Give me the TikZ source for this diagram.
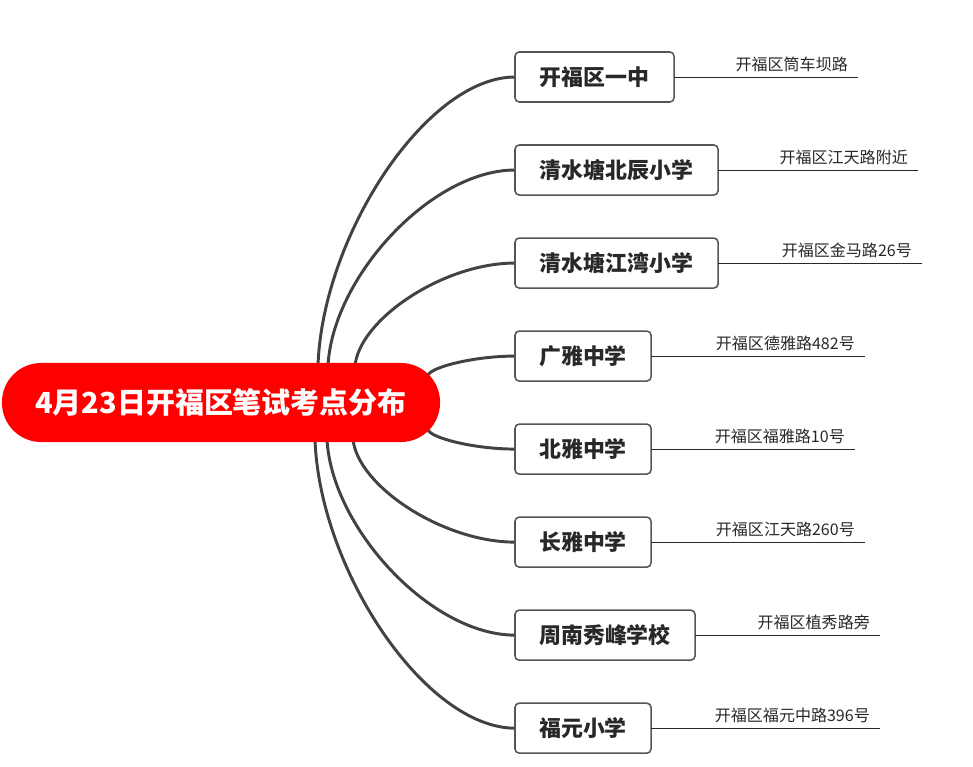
\documentclass[tikz,border=0pt]{standalone}
\usepackage{fontspec}
\setmainfont{Noto Sans CJK SC}
\usepackage{tikz}
\usetikzlibrary{positioning,calc,backgrounds}
\usepackage{xcolor}
\definecolor{cRoot}{RGB}{255,0,0}
\definecolor{cLine}{RGB}{66,66,66}
\definecolor{cBorder}{RGB}{85,85,85}
\definecolor{cText}{RGB}{40,40,40}
\tikzset{
  rootnode/.style={rectangle,rounded corners=0.98cm,fill=cRoot,text=white,
                   minimum width=10.95cm,minimum height=1.975cm,inner sep=0pt,
                   font=\fontsize{20.6}{24}\selectfont\bfseries},
  schoolnode/.style={rectangle,rounded corners=3pt,draw=cBorder,line width=1.1pt,
                     fill=white,text=cText,minimum height=1.25cm,inner sep=0pt,
                     outer sep=0pt,font=\fontsize{15.6}{18}\selectfont\bfseries},
  addrnode/.style={inner sep=0pt,text=cText,font=\fontsize{11.4}{13}\selectfont},
  addrline/.style={line width=0.6pt,color=cText},
  branch/.style={line width=2.1pt,color=cLine,
    to path={let \p1=(\tikztostart), \p2=(\tikztotarget) in
             .. controls ({\x1+3pt},{\y1+0.45*(\y2-\y1)})
             and ({\x1+0.55*(\x2-\x1)},\y2) .. (\tikztotarget)}}
}
\begin{document}
\begin{tikzpicture}[x=0.025cm,y=-0.025cm]
  \useasboundingbox (0,0) rectangle (973,767);

  % Root
  \node[rootnode] (root) at (221,402.5) {4月23日开福区笔试考点分布};

  % Schools
  \node[schoolnode,minimum width=3.975cm,anchor=west] (n1) at (515,77) {开福区一中};
  \node[schoolnode,minimum width=5.075cm,below=1.075cm of n1.south west,anchor=north west] (n2) {清水塘北辰小学};
  \node[schoolnode,minimum width=5.075cm,below=1.075cm of n2.south west,anchor=north west] (n3) {清水塘江湾小学};
  \node[schoolnode,minimum width=3.4cm,below=1.075cm of n3.south west,anchor=north west] (n4) {广雅中学};
  \node[schoolnode,minimum width=3.4cm,below=1.075cm of n4.south west,anchor=north west] (n5) {北雅中学};
  \node[schoolnode,minimum width=3.4cm,below=1.075cm of n5.south west,anchor=north west] (n6) {长雅中学};
  \node[schoolnode,minimum width=4.5cm,below=1.075cm of n6.south west,anchor=north west] (n7) {周南秀峰学校};
  \node[schoolnode,minimum width=3.4cm,below=1.075cm of n7.south west,anchor=north west] (n8) {福元小学};

  % Addresses
  \coordinate[right=4.6cm of n1.east] (e1);
  \coordinate[right=5.0cm of n2.east] (e2);
  \coordinate[right=5.1cm of n3.east] (e3);
  \coordinate[right=5.35cm of n4.east] (e4);
  \coordinate[right=5.1cm of n5.east] (e5);
  \coordinate[right=5.35cm of n6.east] (e6);
  \coordinate[right=4.625cm of n7.east] (e7);
  \coordinate[right=5.725cm of n8.east] (e8);
  \node[addrnode,above left=0.12cm and 0.25cm of e1] (a1) {开福区筒车坝路};
  \node[addrnode,above left=0.12cm and 0.25cm of e2] (a2) {开福区江天路附近};
  \node[addrnode,above left=0.12cm and 0.25cm of e3] (a3) {开福区金马路26号};
  \node[addrnode,above left=0.12cm and 0.25cm of e4] (a4) {开福区德雅路482号};
  \node[addrnode,above left=0.12cm and 0.25cm of e5] (a5) {开福区福雅路10号};
  \node[addrnode,above left=0.12cm and 0.25cm of e6] (a6) {开福区江天路260号};
  \node[addrnode,above left=0.12cm and 0.25cm of e7] (a7) {开福区植秀路旁};
  \node[addrnode,above left=0.12cm and 0.25cm of e8] (a8) {开福区福元中路396号};
  \draw[addrline] (n1.east) -- (e1);
  \draw[addrline] (n2.east) -- (e2);
  \draw[addrline] (n3.east) -- (e3);
  \draw[addrline] (n4.east) -- (e4);
  \draw[addrline] (n5.east) -- (e5);
  \draw[addrline] (n6.east) -- (e6);
  \draw[addrline] (n7.east) -- (e7);
  \draw[addrline] (n8.east) -- (e8);

  % Branch starts on the root border
  \coordinate (s1) at (318,366);
  \coordinate (s2) at (328,366);
  \coordinate (s3) at (355,366);
  \coordinate (s4) at (428,375);
  \coordinate (s5) at (428,430);
  \coordinate (s6) at (353,439);
  \coordinate (s7) at (327,439);
  \coordinate (s8) at (315,439);

  % Branches
  \begin{scope}[on background layer]
    \draw[branch] (s1) to (n1.west);
    \draw[branch] (s2) to (n2.west);
    \draw[branch] (s3) to (n3.west);
    \draw[branch] (s4) to (n4.west);
    \draw[branch] (s5) to (n5.west);
    \draw[branch] (s6) to (n6.west);
    \draw[branch] (s7) to (n7.west);
    \draw[branch] (s8) to (n8.west);
  \end{scope}
\end{tikzpicture}
\end{document}
